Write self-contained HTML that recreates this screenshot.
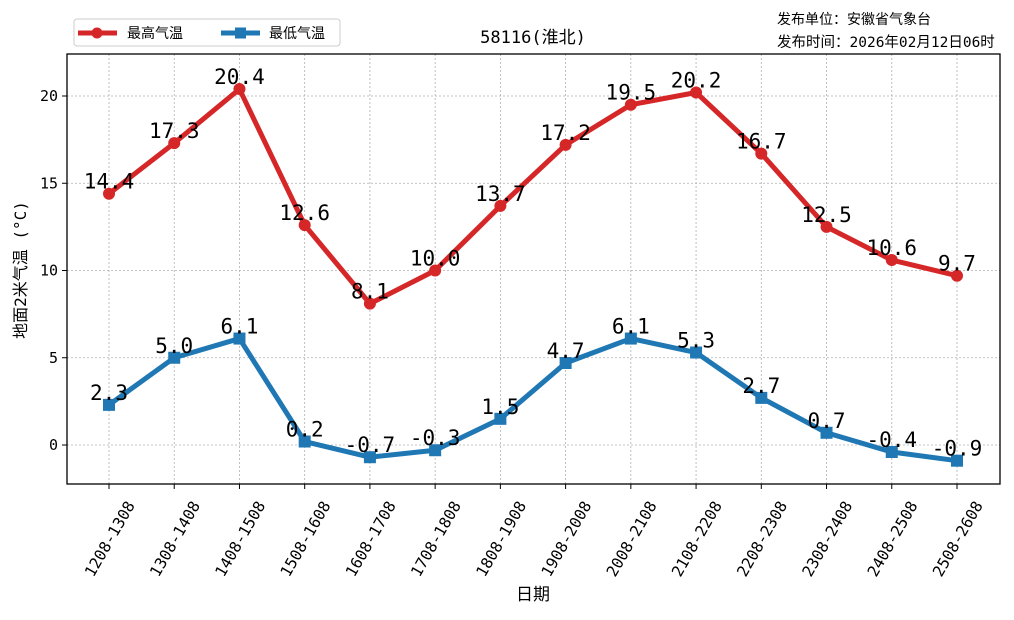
<!DOCTYPE html>
<html><head><meta charset="utf-8"><style>
body{margin:0;background:#fff;}
svg{font-family:"DejaVu Sans Mono","Liberation Mono","Noto Sans CJK SC",monospace;}
</style></head><body>
<svg id="chart" width="1014" height="615" viewBox="0 0 1014 615">
<rect width="1014" height="615" fill="#fff"/>
<g id="grid"></g>
<g id="axes"></g>
<g id="series"></g>
<rect x="67" y="54" width="933" height="430" fill="none" stroke="#000" stroke-width="1.3"/>
<text x="533" y="43" font-size="17" text-anchor="middle">58116(淮北)</text>
<text x="777" y="24" font-size="14">发布单位：安徽省气象台</text>
<text x="777" y="47" font-size="14.5">发布时间：2026年02月12日06时</text>
<text x="533" y="600" font-size="17" text-anchor="middle">日期</text>
<text transform="translate(26,270) rotate(-90)" font-size="16" text-anchor="middle">地面2米气温 (°C)</text>
<g>
<rect x="74" y="19" width="266" height="27" rx="3" fill="#fff" stroke="#ccc"/>
<g>
<line x1="78" y1="33" x2="117" y2="33" stroke="#d62728" stroke-width="5"/>
<circle cx="97" cy="33" r="5.5" fill="#d62728"/>
<text x="127" y="38" font-size="14">最高气温</text></g>
<g>
<line x1="221" y1="33" x2="260" y2="33" stroke="#1f77b4" stroke-width="5"/>
<rect x="235" y="27.5" width="11" height="11" fill="#1f77b4"/>
<text x="269" y="38" font-size="14">最低气温</text></g>
</g>
</svg>
<script>
const categories=["1208-1308","1308-1408","1408-1508","1508-1608","1608-1708","1708-1808","1808-1908","1908-2008","2008-2108","2108-2208","2208-2308","2308-2408","2408-2508","2508-2608"];
const maxTemps=[14.4,17.3,20.4,12.6,8.1,10.0,13.7,17.2,19.5,20.2,16.7,12.5,10.6,9.7];
const minTemps=[2.3,5.0,6.1,0.2,-0.7,-0.3,1.5,4.7,6.1,5.3,2.7,0.7,-0.4,-0.9];
const yTicks=[0,5,10,15,20];
const NS="http://www.w3.org/2000/svg";
const x=i=>109+i*65.23;
const y=v=>445-v*17.45;
function mk(tag,attrs,parent,txt){const e=document.createElementNS(NS,tag);for(const k in attrs)e.setAttribute(k,attrs[k]);if(txt!==undefined)e.textContent=txt;parent.appendChild(e);return e;}
const grid=document.getElementById('grid'),axes=document.getElementById('axes'),ser=document.getElementById('series');
categories.forEach((c,i)=>{
 const g=mk('line',{x1:x(i),x2:x(i),y1:54,y2:484,stroke:'#b0b0b0','stroke-dasharray':'2,2','stroke-width':0.8},grid);
 
 
 const t=mk('line',{x1:x(i),x2:x(i),y1:484,y2:489,stroke:'#000'},axes);
 
 
 const l=mk('text',{x:x(i)+1,y:544,'font-size':15.5,'text-anchor':'middle',transform:`rotate(-60 ${x(i)+1} 539)`},axes,c);
 
 
});
yTicks.forEach(v=>{
 const g=mk('line',{x1:67,x2:1000,y1:y(v),y2:y(v),stroke:'#b0b0b0','stroke-dasharray':'2,2','stroke-width':0.8},grid);
 
 
 const t=mk('line',{x1:62,x2:67,y1:y(v),y2:y(v),stroke:'#000'},axes);
 
 
 const l=mk('text',{x:58,y:y(v)+5,'font-size':15,'text-anchor':'end'},axes,v);
 
 
});
function series(vals,color,shape,name){
 const p=mk('polyline',{points:vals.map((v,i)=>x(i)+','+y(v)).join(' '),fill:'none',stroke:color,'stroke-width':5,'stroke-linejoin':'round'},ser);
 
 
 vals.forEach((v,i)=>{
  let m;
  if(shape==='c') m=mk('circle',{cx:x(i),cy:y(v),r:6,fill:color},ser);
  else m=mk('rect',{x:x(i)-6,y:y(v)-6,width:12,height:12,fill:color},ser);
  
  
  const t=mk('text',{x:x(i),y:y(v)-5,'font-size':21,'text-anchor':'middle'},ser,v.toFixed(1));
  
  
 });
}
series(maxTemps,'#d62728','c','max-temp');
series(minTemps,'#1f77b4','s','min-temp');
</script>
</body></html>
